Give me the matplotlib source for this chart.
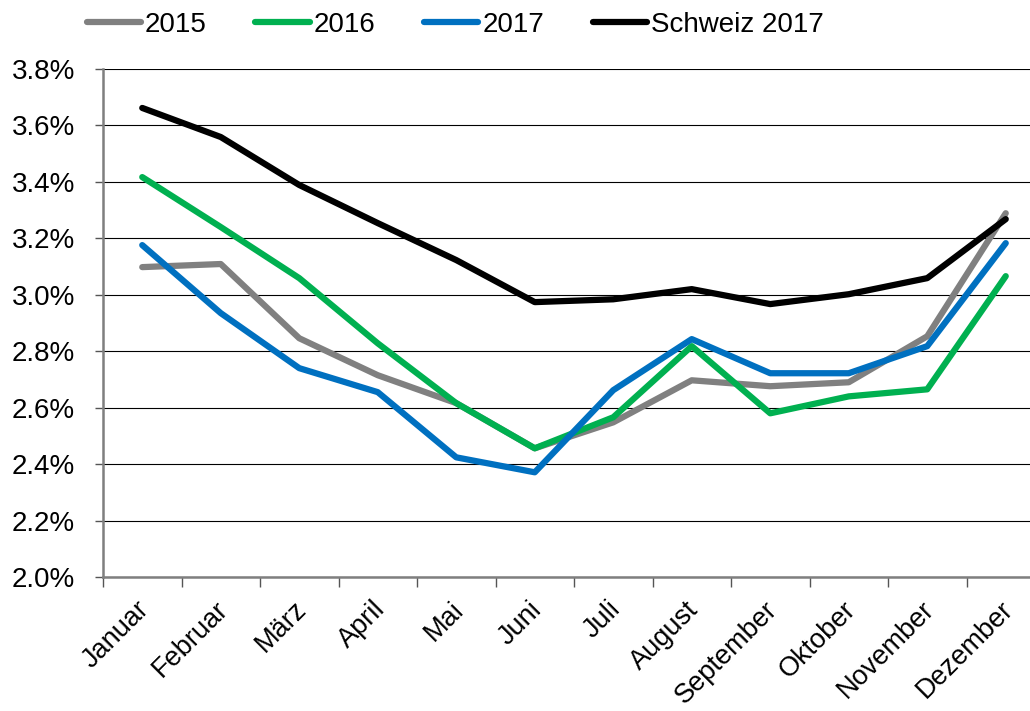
import matplotlib.pyplot as plt
from matplotlib.ticker import FuncFormatter, MultipleLocator
from matplotlib.transforms import ScaledTranslation

plt.rcParams['font.family'] = ['Liberation Sans', 'DejaVu Sans']

months = ['Januar', 'Februar', 'März', 'April', 'Mai', 'Juni', 'Juli',
          'August', 'September', 'Oktober', 'November', 'Dezember']

y2015 = [3.098, 3.109, 2.846, 2.715, 2.616, 2.456, 2.548, 2.697, 2.676, 2.690, 2.853, 3.289]
y2016 = [3.417, 3.240, 3.059, 2.828, 2.616, 2.456, 2.566, 2.818, 2.580, 2.640, 2.665, 3.066]
y2017 = [3.176, 2.935, 2.740, 2.655, 2.424, 2.371, 2.662, 2.843, 2.722, 2.722, 2.818, 3.183]
schweiz2017 = [3.662, 3.559, 3.389, 3.254, 3.123, 2.974, 2.984, 3.020, 2.967, 3.002, 3.059, 3.268]

fig = plt.figure(figsize=(10.3, 7.11), dpi=100)
ax = fig.add_axes([103 / 1030, 1 - 577 / 711, 942 / 1030, 508 / 711])

x = list(range(len(months)))
lw = 4.5
ax.plot(x, y2015, color='#808080', lw=lw, label='2015', solid_capstyle='round', zorder=3)
ax.plot(x, y2016, color='#00B050', lw=lw, label='2016', solid_capstyle='round', zorder=3)
ax.plot(x, y2017, color='#0070C0', lw=lw, label='2017', solid_capstyle='round', zorder=3)
ax.plot(x, schweiz2017, color='black', lw=lw, label='Schweiz 2017', solid_capstyle='round', zorder=4)

ax.set_xlim(-0.5, 11.5)
ax.set_ylim(2.0, 3.8)
ax.yaxis.set_major_locator(MultipleLocator(0.2))
ax.yaxis.set_major_formatter(FuncFormatter(lambda v, p: f'{v:.1f}%'))
ax.grid(axis='y', color='black', lw=0.8, zorder=0)

ax.set_xticks(x)
ax.set_xticklabels(months, rotation=45, ha='right', rotation_mode='anchor')
ax.set_xticks([i - 0.5 for i in range(13)], minor=True)
ax.tick_params(axis='x', which='major', length=0, pad=14, labelsize=19.5)
ax.tick_params(axis='x', which='minor', length=7, color='#555555', width=1)
ax.tick_params(axis='y', length=6, color='#555555', width=1, pad=14, labelsize=20)

# nudge month labels a little left
shift = ScaledTranslation(-6 / 100, 0, fig.dpi_scale_trans)
for lab in ax.get_xticklabels():
    lab.set_transform(lab.get_transform() + shift)

for s in ['top', 'right']:
    ax.spines[s].set_visible(False)
for s in ['left', 'bottom']:
    ax.spines[s].set_color('#7f7f7f')
    ax.spines[s].set_linewidth(1.8)

fig.legend(loc='center', bbox_to_anchor=(0.442, 0.965), ncol=4, frameon=False,
           fontsize=20, handlelength=1.95, handletextpad=0.15, columnspacing=1.75)

plt.savefig('out.png', dpi=100)
